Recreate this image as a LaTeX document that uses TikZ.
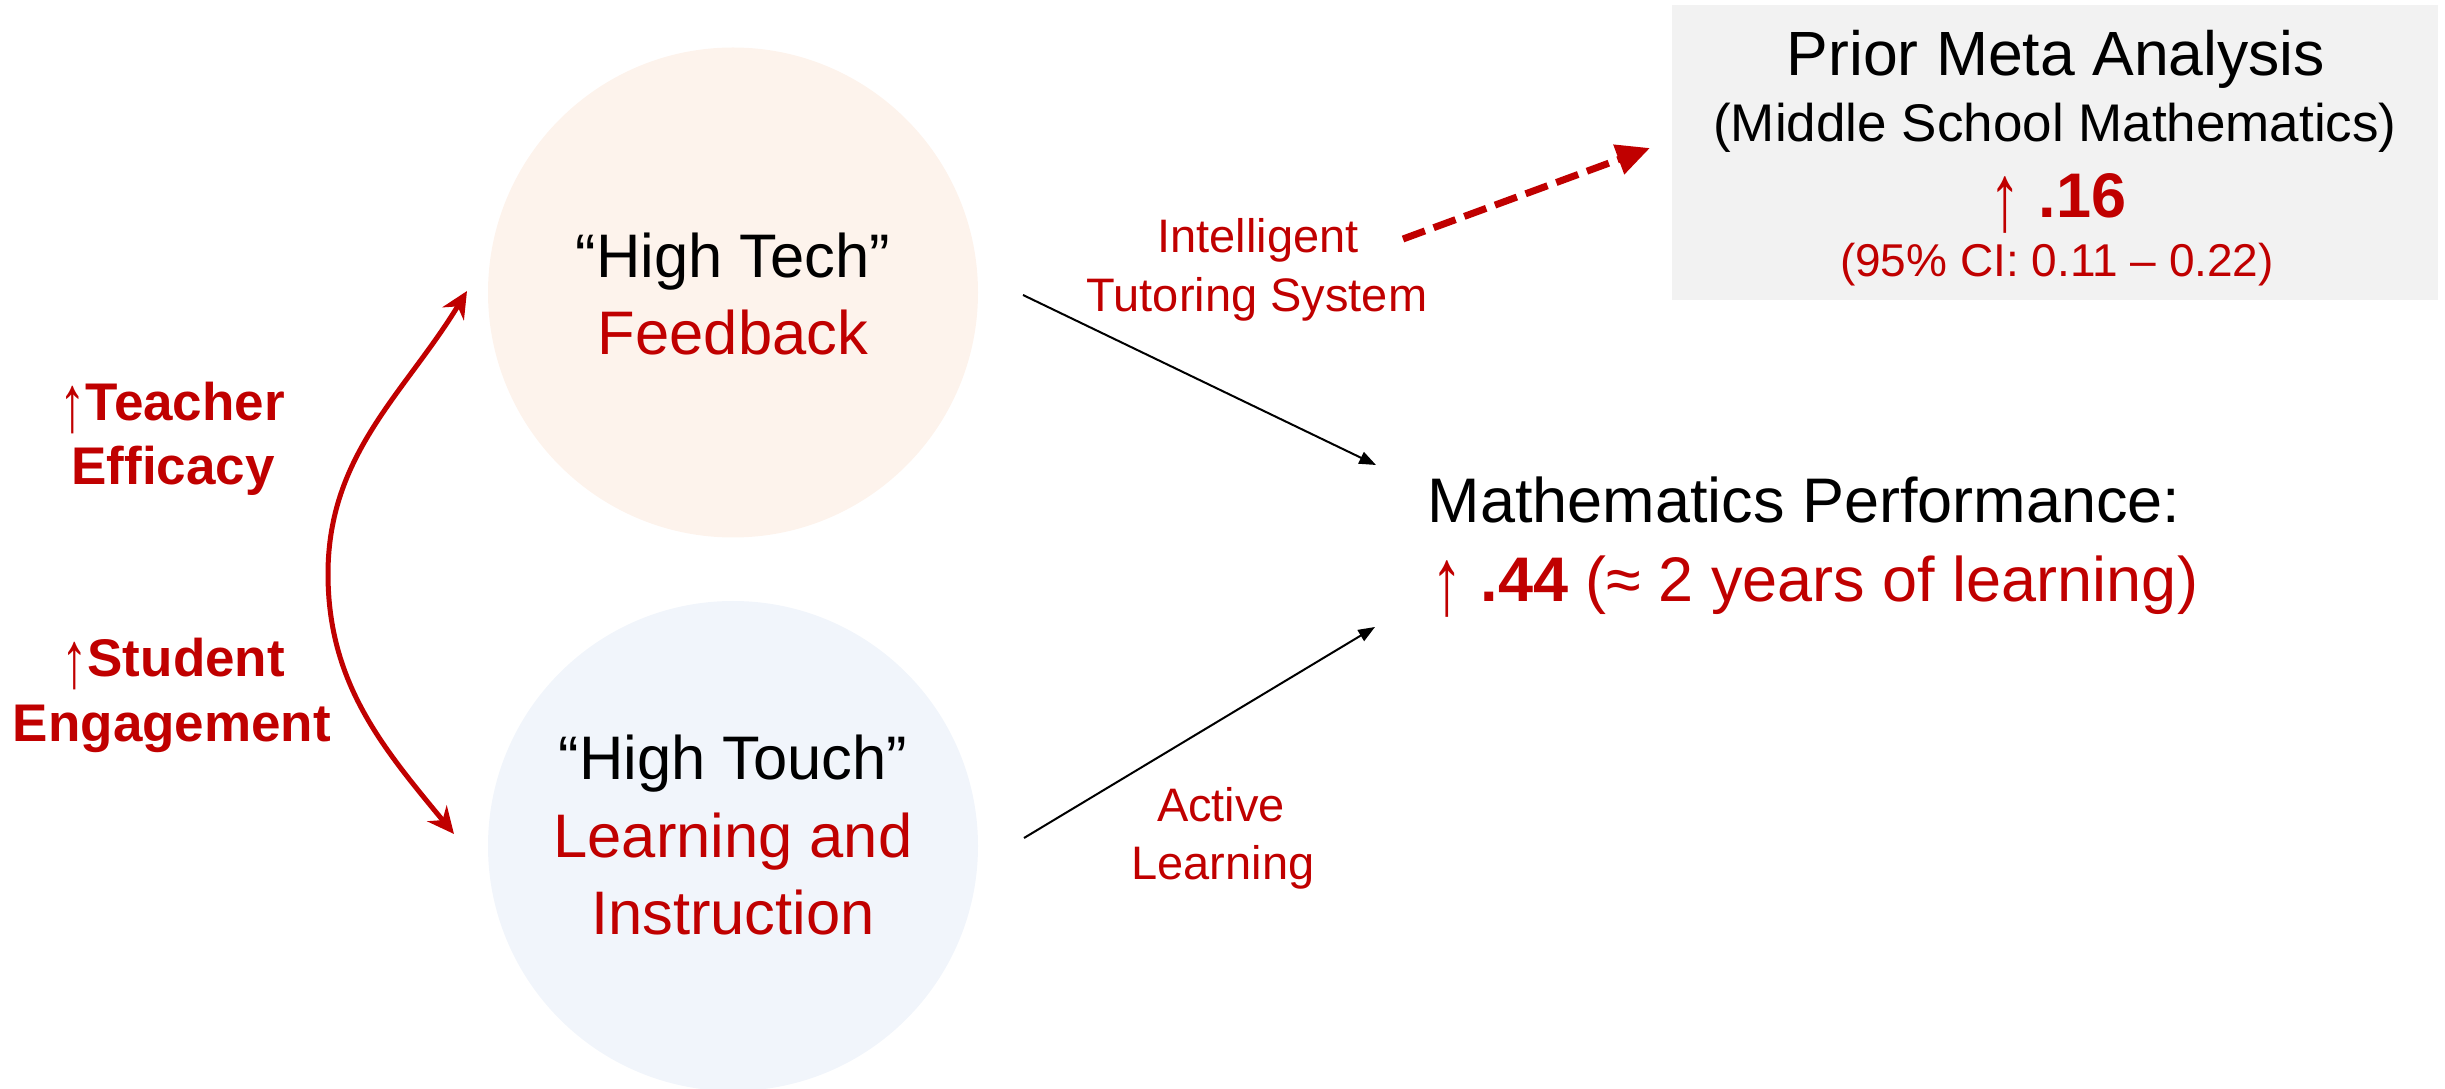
\documentclass[tikz,border=0pt]{standalone}
\usepackage{fontspec}
\setmainfont{Liberation Sans}
\usetikzlibrary{arrows.meta}

\definecolor{accent}{HTML}{C00000}
\definecolor{peachfill}{HTML}{FDF3EC}
\definecolor{skyfill}{HTML}{F1F5FB}
\definecolor{boxgrey}{HTML}{F2F2F2}

\newcommand{\sz}[1]{\fontsize{#1pt}{1.2\dimexpr#1pt\relax}\selectfont}
% a taller up arrow that reaches below the baseline
\newcommand{\uparr}{\raisebox{-0.2em}{\scalebox{1}[1.52]{↑}}}

\begin{document}
\begin{tikzpicture}[x=0.3pt,y=-0.3pt,
  txt/.style={inner sep=0pt, anchor=base},
  bigtxt/.style={txt, font=\sz{18.45}},
  sidetxt/.style={txt, font=\sz{15.9}, text=accent},
  linklbl/.style={txt, font=\sz{14.1}, text=accent},
  disc/.style={circle, minimum size=147pt, inner sep=0pt},
  thin arrow/.style={line width=0.6pt, -{Triangle[length=5pt,width=3.8pt]}},
  loop arrow/.style={line width=1.5pt, draw=accent,
      {Stealth[length=8pt,width=7.5pt]}-{Stealth[length=8pt,width=7.5pt]}},
  dash arrow/.style={line width=2.1pt, draw=accent, dash pattern=on 7pt off 2.8pt,
      -{Triangle[length=10pt,width=9pt]}}]

\useasboundingbox (0,0) rectangle (2445,1089);

% the two approaches
\node[disc, fill=peachfill] (tech) at (733,292.5) {};
\node[disc, fill=skyfill] (touch) at (733,846) {};

\node[bigtxt] (techA) at (733,278) {“High Tech”};
\node[bigtxt, text=accent] (techB) at (733,355) {Feedback};

\node[bigtxt] (touchA) at (733,780) {“High Touch”};
\node[bigtxt, text=accent] (touchB) at (733,858) {Learning and};
\node[bigtxt, text=accent] (touchC) at (733,935) {Instruction};

% side effects between the approaches
\node[sidetxt] (teachA) at (172,421) {\uparr\textbf{Teacher}};
\node[sidetxt] (teachB) at (173,485) {\textbf{Efficacy}};
\node[sidetxt] (studA) at (173,677) {\uparr\textbf{Student}};
\node[sidetxt] (studB) at (172,742) {\textbf{Engagement}};

% prior meta analysis box
\node[fill=boxgrey, minimum width=229.8pt, minimum height=88.5pt, inner sep=0pt] (meta) at (2055,152.5) {};
\node[txt, font=\sz{18.75}] (metaA) at (2056,76) {Prior Meta Analysis};
\node[txt, font=\sz{15.9}] (metaB) at (2055,142) {(Middle School Mathematics)};
\node[txt, font=\sz{18.9}, text=accent] (metaC) at (2058,218) {\uparr\ \textbf{.16}};
\node[txt, font=\sz{13.8}, text=accent] (metaD) at (2057,277) {(95\% CI: 0.11 – 0.22)};

% outcome
\node[txt, anchor=base west, font=\sz{18.9}] (perfA) at (1427,523) {Mathematics Performance:};
\node[txt, anchor=base west, font=\sz{18.9}, text=accent] (perfB) at (1431,602) {\uparr\ \textbf{.44} (≈ 2 years of learning)};

% connector labels
\node[linklbl] (itsA) at (1258,253) {Intelligent};
\node[linklbl] (itsB) at (1257,312) {Tutoring System};
\node[linklbl] (actA) at (1221,822) {Active};
\node[linklbl] (actB) at (1223,880) {Learning};

% connector end points
\coordinate (techout) at (1023,295);
\coordinate (perfin1) at (1376,465);
\coordinate (touchout) at (1024,838);
\coordinate (perfin2) at (1375,627);
\coordinate (itsout) at (1403,239);
\coordinate (metain) at (1650,148);
\coordinate (looptop) at (467,291);
\coordinate (loopbot) at (454,834);
\coordinate (loopmid) at (328,574);

\draw[thin arrow] (techout) -- (perfin1);
\draw[thin arrow] (touchout) -- (perfin2);
\draw[dash arrow] (itsout) -- (metain);
\draw[loop arrow] (loopbot) .. controls (384,749) and (328,684) .. (loopmid)
                            .. controls (328,454) and (405,393) .. (looptop);

\end{tikzpicture}
\end{document}
